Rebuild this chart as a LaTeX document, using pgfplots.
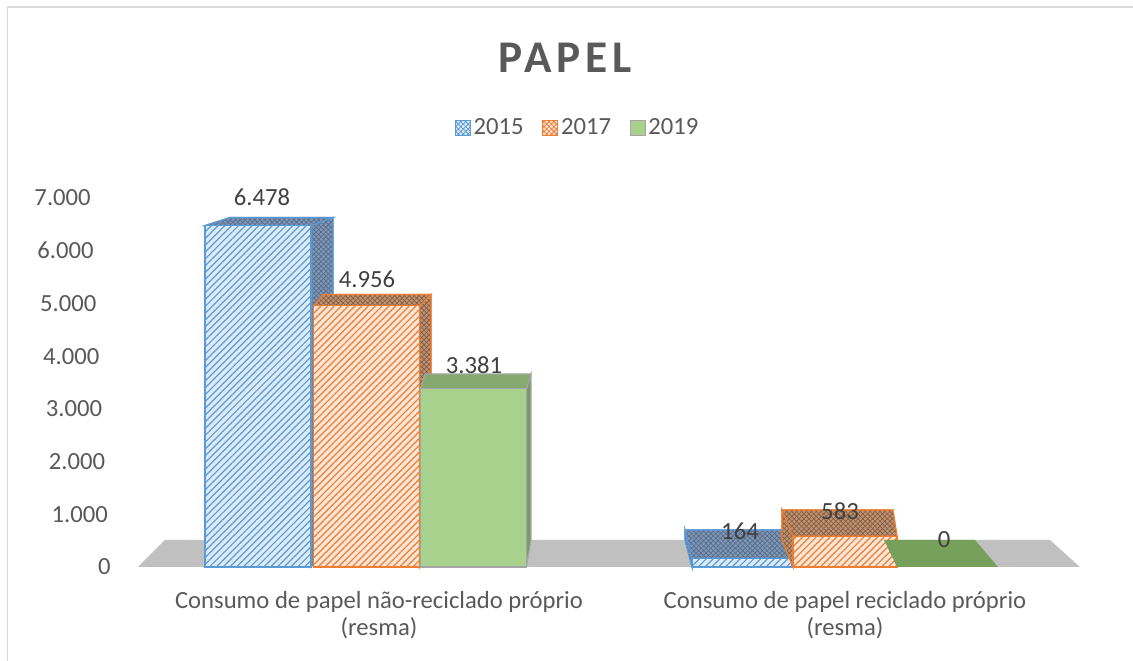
\documentclass[border=0pt]{standalone}
\usepackage{fontspec}
\setmainfont{Carlito}
\newfontfamily\titlefont[LetterSpace=11]{Carlito}
\usepackage{pgfplots}
\pgfplotsset{compat=1.18}
\usetikzlibrary{patterns,patterns.meta}
\definecolor{cblue}{HTML}{5B9BD5}
\definecolor{cbluel}{HTML}{DDEBF7}
\definecolor{cbluet}{HTML}{8495AD}
\definecolor{cbluep}{HTML}{4F6E96}
\definecolor{corange}{HTML}{ED7D31}
\definecolor{corangel}{HTML}{FBE5D6}
\definecolor{coranget}{HTML}{B99478}
\definecolor{corangep}{HTML}{8A5A3A}
\definecolor{cgreen}{HTML}{A9D18E}
\definecolor{cgreent}{HTML}{86A96F}
\definecolor{cgreens}{HTML}{7A9A65}
\definecolor{cgreenf}{HTML}{77A05C}
\definecolor{cedge}{HTML}{A5A5A5}
\definecolor{cfloor}{HTML}{C0C0C0}
\definecolor{ctxt}{HTML}{595959}
\definecolor{clab}{HTML}{404040}
\definecolor{cframe}{HTML}{D9D9D9}
\pgfkeys{/pgf/number format/assume math mode=true}
\tikzset{
  bluefront/.style={fill=cbluel, draw=cblue, line width=1.1pt,
    postaction={pattern={Lines[angle=45,distance=3.6pt,line width=0.9pt]}, pattern color=cblue}},
  bluetop/.style={fill=cbluet, draw=cblue, line width=0.8pt,
    postaction={pattern={Hatch[angle=45,distance=2.6pt,line width=0.5pt]}, pattern color=cbluep}},
  orangefront/.style={fill=corangel, draw=corange, line width=1.1pt,
    postaction={pattern={Lines[angle=45,distance=3.6pt,line width=0.9pt]}, pattern color=corange}},
  orangetop/.style={fill=coranget, draw=corange, line width=0.8pt,
    postaction={pattern={Hatch[angle=45,distance=2.6pt,line width=0.5pt]}, pattern color=corangep}},
  greenfront/.style={fill=cgreen, draw=cedge, line width=1.1pt},
  greentop/.style={fill=cgreent, draw=cedge, line width=0.8pt},
  greenside/.style={fill=cgreens, draw=cedge, line width=0.8pt},
}
\begin{document}
\begin{tikzpicture}
\begin{axis}[
  at={(0,0)}, anchor=south west,
  scale only axis, width=708.75pt, height=276.75pt,
  xmin=135, xmax=1080, ymin=0, ymax=7000,
  clip=false,
  axis line style={draw=none},
  major tick length=0pt,
  ytick={0,1000,2000,3000,4000,5000,6000,7000},
  yticklabel={\pgfmathsetmacro\sh{\tick/7000*15}\pgfmathprintnumber[fixed,precision=0,1000 sep={.}]{\tick}\hspace*{\sh pt}},
  yticklabel style={anchor=east, inner sep=0pt, xshift=-18pt, font=\fontsize{18.5}{21}\selectfont, text=ctxt},
  xtick={379,845},
  xticklabels={{Consumo de papel não-reciclado próprio\\(resma)},{Consumo de papel reciclado próprio\\(resma)}},
  xticklabel style={align=center, anchor=north, inner sep=0pt, yshift=-18pt, font=\fontsize{18.5}{20.25}\selectfont, text=ctxt},
  legend style={at={(axis cs:578,8328)}, anchor=center, draw=none, fill=none,
    font=\fontsize{18.5}{21}\selectfont, text=ctxt, legend columns=3,
    /tikz/every even column/.append style={column sep=12pt},
    legend cell align=left, inner sep=0pt},
  legend image code/.code={\draw[#1] (0pt,-5.6pt) rectangle (11.25pt,5.6pt);},
]
% legend
\addlegendimage{fill=cbluel, draw=cblue, line width=0.8pt, postaction={pattern={Hatch[angle=45,distance=2.6pt,line width=0.6pt]}, pattern color=cblue}}
\addlegendentry{2015}
\addlegendimage{fill=corangel, draw=corange, line width=0.8pt, postaction={pattern={Hatch[angle=45,distance=2.6pt,line width=0.6pt]}, pattern color=corange}}
\addlegendentry{2017}
\addlegendimage{fill=cgreen, draw=cedge, line width=0.8pt}
\addlegendentry{2019}

% floor
\addplot[forget plot, fill=cfloor, draw=none] coordinates {(138,0) (1080,0) (1050,512) (165,512)} -- cycle;

% ---- 2015 ----
\addplot[forget plot, bluetop] coordinates {(311,0) (311,6478) (333,6630) (333,512)} -- cycle;
\addplot[forget plot, bluetop] coordinates {(205,6478) (311,6478) (333,6630) (230,6630)} -- cycle;
\addplot[forget plot, ybar, bar width=106, bar shift=0pt, bluefront] coordinates {(258,6478)};
\addplot[forget plot, bluetop] coordinates {(692,0) (692,164) (685,702) (685,512)} -- cycle;
\addplot[forget plot, bluetop] coordinates {(692,164) (792,164) (790,702) (685,702)} -- cycle;
\addplot[forget plot, ybar, bar width=100, bar shift=0pt, bluefront] coordinates {(742,164)};

% ---- 2017 ----
\addplot[forget plot, orangetop] coordinates {(419.5,0) (419.5,4956) (431,5169) (431,512)} -- cycle;
\addplot[forget plot, orangetop] coordinates {(313.5,4956) (419.5,4956) (431,5169) (323,5169)} -- cycle;
\addplot[forget plot, ybar, bar width=106, bar shift=0pt, orangefront] coordinates {(366.5,4956)};
\addplot[forget plot, orangetop] coordinates {(793,0) (793,583) (782,1081) (782,512)} -- cycle;
\addplot[forget plot, orangetop] coordinates {(793,583) (897,583) (893,1081) (782,1081)} -- cycle;
\addplot[forget plot, ybar, bar width=104, bar shift=0pt, orangefront] coordinates {(845,583)};

% ---- 2019 ----
\addplot[forget plot, greenside] coordinates {(526.5,0) (526.5,3381) (531,3661) (531,512)} -- cycle;
\addplot[forget plot, greentop] coordinates {(420.5,3381) (526.5,3381) (531,3661) (425,3661)} -- cycle;
\addplot[forget plot, ybar, bar width=106, bar shift=0pt, greenfront] coordinates {(473.5,3381)};
\addplot[forget plot, fill=cgreenf, draw=none] coordinates {(897,0) (998,0) (975,512) (884,512)} -- cycle;

% value labels
\begin{scope}[every node/.style={font=\fontsize{18.5}{21}\selectfont, text=clab, inner sep=0pt}]
\node at (axis cs:262,7019) {6.478};
\node at (axis cs:367,5463) {4.956};
\node at (axis cs:474,3832) {3.381};
\node at (axis cs:740,683) {164};
\node at (axis cs:840,1062) {583};
\node at (axis cs:944,512) {0};
\end{scope}

% title
\node[font=\titlefont\bfseries\fontsize{34}{38}\selectfont, text=ctxt] at (axis cs:565,9656) {PAPEL};

% frame
\draw[cframe, line width=1.1pt] (axis cs:7.5,-1783) -- (axis cs:7.5,10623) -- (axis cs:1133,10623);

\coordinate (tl) at (axis cs:0,10756);
\coordinate (br) at (axis cs:1133,-1783);
\end{axis}
\pgfresetboundingbox
\path[use as bounding box] (tl) rectangle (br);
\end{tikzpicture}
\end{document}
